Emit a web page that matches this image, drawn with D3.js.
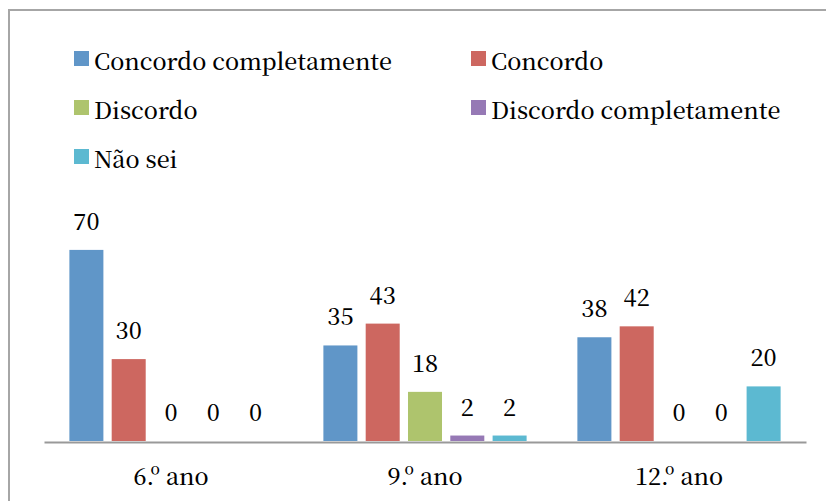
<!DOCTYPE html>
<html>
<head>
<meta charset="utf-8">
<script src="https://cdn.jsdelivr.net/npm/d3@7"></script>
<style>
    body { margin: 0; background: #fff; }
    svg { display: block; }
</style>
</head>
<body>
<div id="chart"></div>
<script>
var categories = ['6.º ano', '9.º ano', '12.º ano'];
var seriesNames = ['Concordo completamente', 'Concordo', 'Discordo', 'Discordo completamente', 'Não sei'];
var seriesColors = ['#6096C8', '#CD6760', '#AEC46D', '#9679B5', '#5CB9D1'];
var concordoCompletamente = [70, 35, 38];
var concordo = [30, 43, 42];
var discordo = [0, 18, 0];
var discordoCompletamente = [0, 2, 0];
var naoSei = [0, 2, 20];

var seriesValues = [concordoCompletamente, concordo, discordo, discordoCompletamente, naoSei];

var FONT = "'Noto Serif CJK SC', 'Liberation Serif', serif";
var FONT_SIZE = 23.3;
var _w = 826, _h = 501;
var svg = d3.select('#chart').append('svg')
    .attr('width', _w).attr('height', _h)
    .style('font-family', FONT)
    .style('font-weight', 500);

// outer frame (only left and top visible, the rest runs off the picture)
svg.append('rect')
    .attr('x', 9).attr('y', 10)
    .attr('width', _w + 20).attr('height', _h + 20)
    .attr('fill', 'none')
    .attr('stroke', '#A6A6A6')
    .attr('stroke-width', 2);

var baseY = 441;
var x0 = d3.scaleBand().domain(categories).range([44, 806]).paddingInner(0).paddingOuter(0);
var x1 = d3.scaleBand().domain(d3.range(seriesNames.length)).range([0, x0.bandwidth()])
    .paddingInner(0.196).paddingOuter(0.6);
var y = d3.scaleLinear().domain([0, 80]).range([baseY, baseY - 80 * 2.73]);

var groups = svg.selectAll('g.cat')
    .data(categories)
    .enter()
    .append('g')
    .attr('class', 'cat')
    .attr('transform', function (d) { return 'translate(' + x0(d) + ',0)'; });

groups.each(function (cat, ci) {
    var g = d3.select(this);
    var rows = seriesValues.map(function (vals, si) { return { s: si, v: vals[ci] }; });
    g.selectAll('rect')
        .data(rows)
        .enter()
        .append('rect')
        .attr('x', function (d) { return x1(d.s); })
        .attr('y', function (d) { return y(d.v); })
        .attr('width', x1.bandwidth())
        .attr('height', function (d) { return baseY - y(d.v); })
        .attr('fill', function (d) { return seriesColors[d.s]; });
    g.selectAll('text.val')
        .data(rows)
        .enter()
        .append('text')
        .attr('class', 'val')
        .attr('x', function (d) { return x1(d.s) + x1.bandwidth() / 2; })
        .attr('y', function (d) { return y(d.v) - 20; })
        .attr('text-anchor', 'middle')
        .style('font-size', FONT_SIZE + 'px')
        .text(function (d) { return d.v; });
});

// category axis
var xAxis = d3.axisBottom(x0).tickSize(0).tickPadding(0);
var axisG = svg.append('g').attr('transform', 'translate(0,' + (baseY + 1) + ')').call(xAxis);
axisG.attr('font-family', null).attr('font-size', null);
axisG.select('.domain').attr('stroke', '#999').attr('stroke-width', 2);
axisG.selectAll('.tick text')
    .attr('y', 43)
    .attr('dy', 0)
    .attr('fill', '#000')
    .style('font-size', FONT_SIZE + 'px');

// legend
var legendPos = [[74, 51], [471, 51], [74, 100], [471, 100], [74, 149]];
var legend = svg.selectAll('g.legend')
    .data(seriesNames)
    .enter()
    .append('g')
    .attr('class', 'legend')
    .attr('transform', function (d, i) { return 'translate(' + legendPos[i][0] + ',' + legendPos[i][1] + ')'; });
legend.append('rect')
    .attr('width', 15).attr('height', 15)
    .attr('fill', function (d, i) { return seriesColors[i]; });
legend.append('text')
    .attr('x', 20).attr('y', 19)
    .style('font-size', FONT_SIZE + 'px')
    .text(function (d) { return d; });
</script>
</body>
</html>
